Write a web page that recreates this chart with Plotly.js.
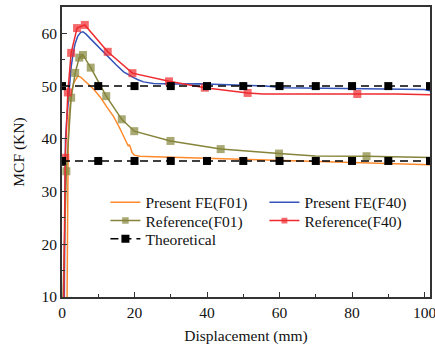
<!DOCTYPE html>
<html>
<head>
<meta charset="utf-8">
<script src="https://cdn.plot.ly/plotly-3.0.1.min.js"></script>
<style>
  html, body { margin: 0; padding: 0; background: #fff; }
  #chart { width: 435px; height: 345px; }
</style>
</head>
<body>
<div id="chart"></div>
<script>
// Present FE curves (displacement in mm, MCF in kN)
const feF01X = [1.4, 1.56, 1.71, 1.91, 2.32, 2.73, 3.24, 3.75, 4.36, 5.17, 6.19, 7.21, 8.74, 10.57, 12.3, 14.24, 15.87, 17.39, 18.31, 18.61, 18.92, 19.33, 19.94, 21.47, 25.5, 30.6, 37.8, 45.9, 56.1, 65.3, 73.4, 83.6, 91.7, 101.5];
const feF01Y = [10, 30, 40, 44.2, 47.2, 49.2, 50.6, 51.3, 51.9, 51.7, 51.1, 50.4, 49.4, 47.9, 46.1, 44.2, 42.1, 39.8, 38.6, 38.9, 38.2, 37.4, 36.9, 36.7, 36.6, 36.5, 36.4, 36.2, 36.0, 35.9, 35.7, 35.5, 35.3, 35.1];

const feF40X = [0.64, 0.79, 0.95, 1.3, 1.61, 2.12, 2.52, 3.14, 3.64, 4.36, 5.17, 5.78, 6.7, 7.82, 9.75, 12.4, 14.85, 16.99, 18.41, 19.74, 20.96, 22.48, 25.23, 30.6, 37.8, 45.9, 51.0, 56.1, 61.2, 76.5, 91.7, 99.9, 101.5];
const feF40Y = [10, 28, 39.7, 43.5, 46, 50.5, 53.6, 56.5, 58.1, 59.5, 60.2, 60.3, 59.8, 59.0, 57.6, 55.8, 54.1, 52.7, 52.1, 51.6, 51.2, 50.8, 50.5, 50.4, 50.45, 50.3, 50.2, 50.0, 49.7, 49.55, 49.45, 49.35, 49.1];

// Reference results: sampled points (with markers) and extra curve points (line only)
const refF01PtsX = [1.2, 2.52, 3.64, 4.76, 5.78, 7.92, 12.2, 16.48, 19.94, 29.92, 43.77, 59.86, 84.0];
const refF01PtsY = [33.85, 47.8, 52.5, 55.4, 55.9, 53.5, 48.1, 43.7, 41.45, 39.6, 38.05, 37.2, 36.7];
const refF01LinkX = [0.28, 69.84, 101.5];
const refF01LinkY = [10, 36.75, 36.45];

const refF40PtsX = [0.89, 1.61, 2.52, 4.15, 6.29, 12.61, 19.43, 29.51, 39.39, 51.2, 81.45];
const refF40PtsY = [36.4, 48.8, 56.3, 61.0, 61.6, 56.5, 52.45, 50.9, 49.7, 48.7, 48.5];
const refF40LinkX = [0.49, 55.48, 92.25, 101.5];
const refF40LinkY = [10, 48.5, 48.5, 48.35];

// Theoretical MCF levels
const theoX = [0, 10, 20, 30, 40, 50, 60, 70, 80, 90, 101.5];
const theoF40Y = [50, 50, 50, 50, 50, 50, 50, 50, 50, 50, 50];
const theoF01Y = [35.8, 35.8, 35.8, 35.8, 35.8, 35.8, 35.8, 35.8, 35.8, 35.8, 35.8];

const SERIF = 'Liberation Serif';
const FS = 15.5;
const MARK = 8;

// Merge sampled points and line-only points into one curve; only samples get a marker.
function refCurve(px, py, lx, ly) {
  const pts = px.map((x, i) => ({x: x, y: py[i], s: MARK}))
    .concat(lx.map((x, i) => ({x: x, y: ly[i], s: 0})));
  pts.sort((a, b) => a.x - b.x);
  return {x: pts.map(p => p.x), y: pts.map(p => p.y), s: pts.map(p => p.s)};
}

const rF01 = refCurve(refF01PtsX, refF01PtsY, refF01LinkX, refF01LinkY);
const rF40 = refCurve(refF40PtsX, refF40PtsY, refF40LinkX, refF40LinkY);

const cOrange = '#FF8A2C';
const cBlue = '#3454B8';
const cOlive = '#85843A';
const cRed = '#EE2A2E';

const traces = [
  {
    x: feF01X, y: feF01Y, mode: 'lines', name: 'Present FE(F01)',
    line: {color: cOrange, width: 1.5}, legend: 'legend'
  },
  {
    x: feF40X, y: feF40Y, mode: 'lines', name: 'Present FE(F40)',
    line: {color: cBlue, width: 1.5}, legend: 'legend'
  },
  {
    x: rF01.x, y: rF01.y, mode: 'lines+markers', name: 'Reference(F01)',
    line: {color: cOlive, width: 1.5},
    marker: {symbol: 'square', size: rF01.s, color: cOlive, line: {width: 0}},
    legend: 'legend2'
  },
  {
    x: rF40.x, y: rF40.y, mode: 'lines+markers', name: 'Reference(F40)',
    line: {color: cRed, width: 1.5},
    marker: {symbol: 'square', size: rF40.s, color: cRed, line: {width: 0}},
    legend: 'legend2'
  },
  {
    x: theoX, y: theoF40Y, mode: 'lines+markers', name: 'Theoretical',
    line: {color: '#000', width: 1.5, dash: '8px,5px'},
    marker: {symbol: 'square', size: MARK, color: '#000'},
    legend: 'legend3', legendgroup: 'theo'
  },
  {
    x: theoX, y: theoF01Y, mode: 'lines+markers', name: 'Theoretical',
    line: {color: '#000', width: 1.5, dash: '8px,5px'},
    marker: {symbol: 'square', size: MARK, color: '#000'},
    legend: 'legend3', legendgroup: 'theo', showlegend: false
  }
];

function legendRow(y) {
  return {
    orientation: 'h', x: 0.118, xanchor: 'left', y: y, yanchor: 'middle',
    bgcolor: 'rgba(0,0,0,0)', borderwidth: 0,
    font: {family: SERIF, size: FS, color: '#111'},
    entrywidth: 114, itemwidth: 30, itemsizing: 'trace'
  };
}

const axisCommon = {
  showgrid: false, zeroline: false, showline: true, mirror: true,
  linecolor: '#333', linewidth: 2,
  ticks: 'inside', ticklen: 5, tickwidth: 1, tickcolor: '#333',
  tickfont: {family: SERIF, size: FS, color: '#111'},
  ticklabeloverflow: 'allow',
  automargin: false
};

const layout = {
  width: 435, height: 345,
  margin: {l: 62, r: 4.5, t: 7, b: 48, pad: 0},
  paper_bgcolor: '#fff', plot_bgcolor: '#fff',
  font: {family: SERIF, size: FS, color: '#111'},
  showlegend: true,
  legend: legendRow(0.325),
  legend2: legendRow(0.262),
  legend3: legendRow(0.199),
  xaxis: Object.assign({}, axisCommon, {
    range: [0, 101.5], tick0: 0, dtick: 20,
    minor: {dtick: 10, ticks: 'inside', ticklen: 3, tickcolor: '#333', showgrid: false},
    title: {text: 'Displacement (mm)', font: {family: SERIF, size: FS, color: '#111'}, standoff: 12}
  }),
  yaxis: Object.assign({}, axisCommon, {
    range: [10, 65], tick0: 0, dtick: 10,
    minor: {dtick: 5, ticks: 'inside', ticklen: 3, tickcolor: '#333', showgrid: false},
    title: {text: 'MCF (KN)', font: {family: SERIF, size: FS, color: '#111'}, standoff: 13}
  })
};

Plotly.newPlot('chart', traces, layout, {displayModeBar: false, staticPlot: true});
</script>
</body>
</html>
